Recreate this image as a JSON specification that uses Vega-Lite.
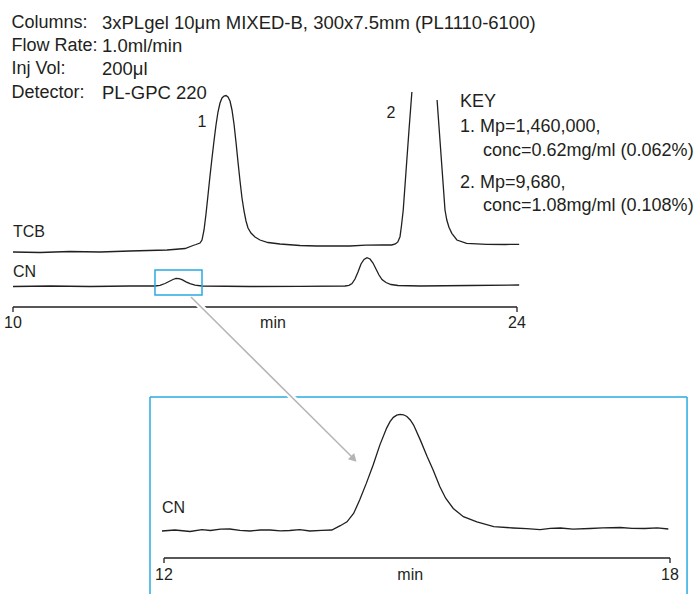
{
  "$schema": "https://vega.github.io/schema/vega-lite/v6.json",
  "width": 697,
  "height": 594,
  "autosize": {"type": "fit", "contains": "padding"},
  "padding": 0,
  "background": "white",
  "config": {"view": {"stroke": null}, "font": "Liberation Sans"},
  "resolve": {"scale": {"x": "independent", "y": "independent"}},
  "layer": [
    {
      "layer": [
        {
          "data": {"values": [
            {"trace":"TCB","t":10.0,"v":18.33},{"trace":"TCB","t":10.75,"v":18.17},{"trace":"TCB","t":11.58,"v":18.5},{"trace":"TCB","t":12.42,"v":18.33},{"trace":"TCB","t":13.25,"v":18.67},{"trace":"TCB","t":14.28,"v":19.0},{"trace":"TCB","t":14.78,"v":19.5},{"trace":"TCB","t":15.0,"v":20.5},{"trace":"TCB","t":15.083,"v":20.83},{"trace":"TCB","t":15.194,"v":21.33},{"trace":"TCB","t":15.25,"v":22.33},{"trace":"TCB","t":15.306,"v":25.67},{"trace":"TCB","t":15.361,"v":31.0},{"trace":"TCB","t":15.417,"v":37.33},{"trace":"TCB","t":15.472,"v":43.67},{"trace":"TCB","t":15.528,"v":49.67},{"trace":"TCB","t":15.583,"v":55.33},{"trace":"TCB","t":15.639,"v":60.67},{"trace":"TCB","t":15.694,"v":65.0},{"trace":"TCB","t":15.75,"v":68.0},{"trace":"TCB","t":15.806,"v":69.67},{"trace":"TCB","t":15.861,"v":70.33},{"trace":"TCB","t":15.917,"v":70.5},{"trace":"TCB","t":15.972,"v":70.0},{"trace":"TCB","t":16.028,"v":68.67},{"trace":"TCB","t":16.083,"v":65.67},{"trace":"TCB","t":16.139,"v":61.0},{"trace":"TCB","t":16.194,"v":55.0},{"trace":"TCB","t":16.25,"v":48.33},{"trace":"TCB","t":16.306,"v":42.0},{"trace":"TCB","t":16.361,"v":36.33},{"trace":"TCB","t":16.417,"v":32.0},{"trace":"TCB","t":16.472,"v":28.67},{"trace":"TCB","t":16.528,"v":26.33},{"trace":"TCB","t":16.611,"v":24.67},{"trace":"TCB","t":16.722,"v":23.33},{"trace":"TCB","t":16.861,"v":22.33},{"trace":"TCB","t":17.083,"v":21.5},{"trace":"TCB","t":17.417,"v":21.0},{"trace":"TCB","t":17.972,"v":20.5},{"trace":"TCB","t":18.44,"v":20.33},{"trace":"TCB","t":18.9,"v":20.4},{"trace":"TCB","t":19.36,"v":20.33},{"trace":"TCB","t":19.8,"v":20.6},{"trace":"TCB","t":20.28,"v":20.67},{"trace":"TCB","t":20.52,"v":20.67},{"trace":"TCB","t":20.62,"v":21.0},{"trace":"TCB","t":20.69,"v":21.7},{"trace":"TCB","t":20.75,"v":23.43},{"trace":"TCB","t":20.79,"v":27.0},{"trace":"TCB","t":20.84,"v":32.33},{"trace":"TCB","t":20.92,"v":45.67},{"trace":"TCB","t":21.0,"v":59.0},{"trace":"TCB","t":21.08,"v":71.67},{"trace":"TCB","t":21.4,"v":null},{"trace":"TCB","t":21.78,"v":69.0},{"trace":"TCB","t":21.86,"v":55.67},{"trace":"TCB","t":21.94,"v":42.33},{"trace":"TCB","t":22.0,"v":32.33},{"trace":"TCB","t":22.05,"v":29.0},{"trace":"TCB","t":22.11,"v":26.6},{"trace":"TCB","t":22.19,"v":24.57},{"trace":"TCB","t":22.33,"v":22.33},{"trace":"TCB","t":22.6,"v":21.23},{"trace":"TCB","t":23.16,"v":20.9},{"trace":"TCB","t":23.67,"v":20.83},{"trace":"TCB","t":24.06,"v":20.9},
            {"trace":"CN","t":10.0,"v":6.83},{"trace":"CN","t":11.03,"v":7.0},{"trace":"CN","t":12.14,"v":6.83},{"trace":"CN","t":13.25,"v":7.0},{"trace":"CN","t":13.944,"v":7.0},{"trace":"CN","t":14.083,"v":7.23},{"trace":"CN","t":14.222,"v":7.83},{"trace":"CN","t":14.333,"v":8.5},{"trace":"CN","t":14.444,"v":9.17},{"trace":"CN","t":14.528,"v":9.5},{"trace":"CN","t":14.611,"v":9.47},{"trace":"CN","t":14.694,"v":9.13},{"trace":"CN","t":14.806,"v":8.4},{"trace":"CN","t":14.917,"v":7.77},{"trace":"CN","t":15.056,"v":7.27},{"trace":"CN","t":15.25,"v":7.0},{"trace":"CN","t":16.58,"v":6.83},{"trace":"CN","t":17.97,"v":6.9},{"trace":"CN","t":19.222,"v":7.0},{"trace":"CN","t":19.333,"v":7.23},{"trace":"CN","t":19.417,"v":7.83},{"trace":"CN","t":19.5,"v":9.33},{"trace":"CN","t":19.583,"v":11.67},{"trace":"CN","t":19.667,"v":14.33},{"trace":"CN","t":19.75,"v":15.83},{"trace":"CN","t":19.833,"v":16.43},{"trace":"CN","t":19.917,"v":16.0},{"trace":"CN","t":20.0,"v":14.67},{"trace":"CN","t":20.083,"v":12.67},{"trace":"CN","t":20.167,"v":10.67},{"trace":"CN","t":20.25,"v":9.17},{"trace":"CN","t":20.361,"v":8.17},{"trace":"CN","t":20.5,"v":7.5},{"trace":"CN","t":20.694,"v":7.17},{"trace":"CN","t":21.31,"v":7.0},{"trace":"CN","t":22.69,"v":7.17},{"trace":"CN","t":24.06,"v":7.33}
          ]},
          "mark": {"type": "line", "color": "#231f20", "strokeWidth": 1.3, "invalid": "break-paths-filter-domains"},
          "encoding": {
            "x": {"field": "t", "type": "quantitative", "scale": {"domain": [10, 24], "range": [13, 517], "zero": false, "nice": false}, "axis": null},
            "y": {"field": "v", "type": "quantitative", "scale": {"domain": [0, 100], "range": [307, 7], "zero": false, "nice": false}, "axis": null},
            "detail": {"field": "trace"}
          }
        },
        {
          "data": {"values": [{"t0": 13.944, "t1": 15.25, "v0": 4.0, "v1": 12.33}]},
          "mark": {"type": "rect", "filled": false, "stroke": "#29abe2", "strokeWidth": 1.5},
          "encoding": {
            "x": {"field": "t0", "type": "quantitative", "axis": null},
            "x2": {"field": "t1"},
            "y": {"field": "v0", "type": "quantitative", "axis": null},
            "y2": {"field": "v1"}
          }
        },
        {
          "data": {"values": [{"t0": 10, "t1": 24, "v": 0}]},
          "mark": {"type": "rule", "color": "#231f20", "strokeWidth": 1.3},
          "encoding": {
            "x": {"field": "t0", "type": "quantitative", "axis": null},
            "x2": {"field": "t1"},
            "y": {"field": "v", "type": "quantitative", "axis": null}
          }
        },
        {
          "data": {"values": [{"t": 10, "v0": 0, "v1": -1.67}, {"t": 24, "v0": 0, "v1": -1.67}]},
          "mark": {"type": "rule", "color": "#231f20", "strokeWidth": 1.3},
          "encoding": {
            "x": {"field": "t", "type": "quantitative", "axis": null},
            "y": {"field": "v0", "type": "quantitative", "axis": null},
            "y2": {"field": "v1"}
          }
        },
        {
          "data": {"values": [
            {"label": "Columns:", "t": 9.958, "v": 94.67},
            {"label": "Flow Rate:", "t": 9.958, "v": 87.0},
            {"label": "Inj Vol:", "t": 9.958, "v": 79.17},
            {"label": "Detector:", "t": 9.958, "v": 71.33}
          ]},
          "mark": {"type": "text", "align": "left", "baseline": "middle", "fontSize": 18, "color": "#231f20"},
          "encoding": {
            "x": {"field": "t", "type": "quantitative", "axis": null},
            "y": {"field": "v", "type": "quantitative", "axis": null},
            "text": {"field": "label"}
          }
        },
        {
          "data": {"values": [
            {"label": "3xPLgel 10μm MIXED-B, 300x7.5mm (PL1110-6100)", "t": 12.472, "v": 94.67},
            {"label": "1.0ml/min", "t": 12.472, "v": 87.0},
            {"label": "200μl", "t": 12.472, "v": 79.17},
            {"label": "PL-GPC 220", "t": 12.472, "v": 71.33}
          ]},
          "mark": {"type": "text", "align": "left", "baseline": "middle", "fontSize": 18.5, "color": "#231f20"},
          "encoding": {
            "x": {"field": "t", "type": "quantitative", "axis": null},
            "y": {"field": "v", "type": "quantitative", "axis": null},
            "text": {"field": "label"}
          }
        },
        {
          "data": {"values": [
            {"label": "KEY", "t": 22.417, "v": 68.33},
            {"label": "1. Mp=1,460,000,", "t": 22.417, "v": 60.0},
            {"label": "conc=0.62mg/ml (0.062%)", "t": 23.056, "v": 52.0},
            {"label": "2. Mp=9,680,", "t": 22.417, "v": 41.33},
            {"label": "conc=1.08mg/ml (0.108%)", "t": 23.056, "v": 33.67}
          ]},
          "mark": {"type": "text", "align": "left", "baseline": "middle", "fontSize": 18, "color": "#231f20"},
          "encoding": {
            "x": {"field": "t", "type": "quantitative", "axis": null},
            "y": {"field": "v", "type": "quantitative", "axis": null},
            "text": {"field": "label"}
          }
        },
        {
          "data": {"values": [
            {"label": "TCB", "t": 10.0, "v": 25.0},
            {"label": "CN", "t": 10.0, "v": 11.67}
          ]},
          "mark": {"type": "text", "align": "left", "baseline": "middle", "fontSize": 16, "color": "#231f20"},
          "encoding": {
            "x": {"field": "t", "type": "quantitative", "axis": null},
            "y": {"field": "v", "type": "quantitative", "axis": null},
            "text": {"field": "label"}
          }
        },
        {
          "data": {"values": [
            {"label": "1", "t": 15.25, "v": 61.67},
            {"label": "2", "t": 20.5, "v": 64.67},
            {"label": "10", "t": 10.0, "v": -5.33},
            {"label": "24", "t": 24.0, "v": -5.33},
            {"label": "min", "t": 17.222, "v": -5.33}
          ]},
          "mark": {"type": "text", "align": "center", "baseline": "middle", "fontSize": 16, "color": "#231f20"},
          "encoding": {
            "x": {"field": "t", "type": "quantitative", "axis": null},
            "y": {"field": "v", "type": "quantitative", "axis": null},
            "text": {"field": "label"}
          }
        }
      ]
    },
    {
      "layer": [
        {
          "data": {"values": [
            {"t":11.976,"v":6.977},{"t":12.13,"v":7.0},{"t":12.31,"v":6.965},{"t":12.45,"v":7.01},{"t":12.55,"v":6.988},{"t":12.67,"v":7.02},{"t":12.78,"v":7.023},{"t":12.9,"v":6.99},{"t":13.02,"v":6.977},{"t":13.14,"v":7.0},{"t":13.26,"v":7.0},{"t":13.38,"v":6.98},{"t":13.49,"v":6.988},{"t":13.61,"v":7.01},{"t":13.73,"v":6.977},{"t":13.87,"v":6.99},{"t":13.99,"v":7.0},{"t":14.09,"v":7.1},{"t":14.17,"v":7.19},{"t":14.25,"v":7.39},{"t":14.32,"v":7.7},{"t":14.4,"v":8.09},{"t":14.48,"v":8.51},{"t":14.56,"v":8.98},{"t":14.64,"v":9.37},{"t":14.68,"v":9.52},{"t":14.72,"v":9.62},{"t":14.76,"v":9.67},{"t":14.8,"v":9.69},{"t":14.84,"v":9.68},{"t":14.88,"v":9.64},{"t":14.92,"v":9.56},{"t":14.96,"v":9.44},{"t":15.04,"v":9.09},{"t":15.12,"v":8.71},{"t":15.19,"v":8.4},{"t":15.27,"v":8.01},{"t":15.34,"v":7.74},{"t":15.43,"v":7.5},{"t":15.55,"v":7.31},{"t":15.71,"v":7.19},{"t":15.91,"v":7.08},{"t":16.14,"v":7.047},{"t":16.3,"v":7.03},{"t":16.46,"v":7.01},{"t":16.58,"v":7.04},{"t":16.7,"v":7.047},{"t":16.85,"v":7.02},{"t":17.05,"v":7.035},{"t":17.2,"v":7.05},{"t":17.41,"v":7.058},{"t":17.55,"v":7.04},{"t":17.7,"v":7.035},{"t":17.85,"v":7.05},{"t":17.98,"v":7.023}
          ]},
          "mark": {"type": "line", "color": "#231f20", "strokeWidth": 1.3},
          "encoding": {
            "x": {"field": "t", "type": "quantitative", "scale": {"domain": [12, 18], "range": [164, 670], "zero": false, "nice": false}, "axis": null},
            "y": {"field": "v", "type": "quantitative", "scale": {"domain": [5, 11], "range": [616, 358], "zero": false, "nice": false}, "axis": null}
          }
        },
        {
          "data": {"values": [
            {"t0": 11.834, "t1": 18.202, "v0": 10.093, "v1": 10.093},
            {"t0": 11.834, "t1": 11.834, "v0": 10.093, "v1": 5.0},
            {"t0": 18.202, "t1": 18.202, "v0": 10.093, "v1": 5.0}
          ]},
          "mark": {"type": "rule", "color": "#29abe2", "strokeWidth": 1.5},
          "encoding": {
            "x": {"field": "t0", "type": "quantitative", "axis": null},
            "x2": {"field": "t1"},
            "y": {"field": "v0", "type": "quantitative", "axis": null},
            "y2": {"field": "v1"}
          }
        },
        {
          "data": {"values": [
            {"t0": 12, "t1": 18, "v0": 6.349, "v1": 6.349},
            {"t0": 12, "t1": 12, "v0": 6.349, "v1": 6.233},
            {"t0": 18, "t1": 18, "v0": 6.349, "v1": 6.233}
          ]},
          "mark": {"type": "rule", "color": "#231f20", "strokeWidth": 1.3},
          "encoding": {
            "x": {"field": "t0", "type": "quantitative", "axis": null},
            "x2": {"field": "t1"},
            "y": {"field": "v0", "type": "quantitative", "axis": null},
            "y2": {"field": "v1"}
          }
        },
        {
          "data": {"values": [
            {"label": "12", "t": 12.0, "v": 5.953},
            {"label": "18", "t": 18.0, "v": 5.953},
            {"label": "min", "t": 14.92, "v": 5.953}
          ]},
          "mark": {"type": "text", "align": "center", "baseline": "middle", "fontSize": 16, "color": "#231f20"},
          "encoding": {
            "x": {"field": "t", "type": "quantitative", "axis": null},
            "y": {"field": "v", "type": "quantitative", "axis": null},
            "text": {"field": "label"}
          }
        },
        {
          "data": {"values": [{"label": "CN", "t": 11.976, "v": 7.512}]},
          "mark": {"type": "text", "align": "left", "baseline": "middle", "fontSize": 16, "color": "#231f20"},
          "encoding": {
            "x": {"field": "t", "type": "quantitative", "axis": null},
            "y": {"field": "v", "type": "quantitative", "axis": null},
            "text": {"field": "label"}
          }
        }
      ]
    },
    {
      "layer": [
        {
          "data": {"values": [{"t0": 15.0, "v0": 2.67, "t1": 19.361, "v1": -49.33}]},
          "mark": {"type": "rule", "color": "white", "strokeWidth": 6},
          "encoding": {
            "x": {"field": "t0", "type": "quantitative", "scale": {"domain": [10, 24], "range": [13, 517], "zero": false, "nice": false}, "axis": null},
            "y": {"field": "v0", "type": "quantitative", "scale": {"domain": [0, 100], "range": [307, 7], "zero": false, "nice": false}, "axis": null},
            "x2": {"field": "t1"},
            "y2": {"field": "v1"}
          }
        },
        {
          "data": {"values": [{"t0": 14.944, "v0": 3.33, "t1": 19.417, "v1": -50.0}]},
          "mark": {"type": "rule", "color": "#b5b5b5", "strokeWidth": 1.5},
          "encoding": {
            "x": {"field": "t0", "type": "quantitative", "axis": null},
            "y": {"field": "v0", "type": "quantitative", "axis": null},
            "x2": {"field": "t1"},
            "y2": {"field": "v1"}
          }
        },
        {
          "data": {"values": [{"t": 19.44, "v": -50.33}]},
          "mark": {"type": "point", "shape": "triangle", "angle": 135, "size": 80, "filled": true, "color": "#b5b5b5", "opacity": 1},
          "encoding": {
            "x": {"field": "t", "type": "quantitative", "axis": null},
            "y": {"field": "v", "type": "quantitative", "axis": null}
          }
        }
      ]
    }
  ]
}
